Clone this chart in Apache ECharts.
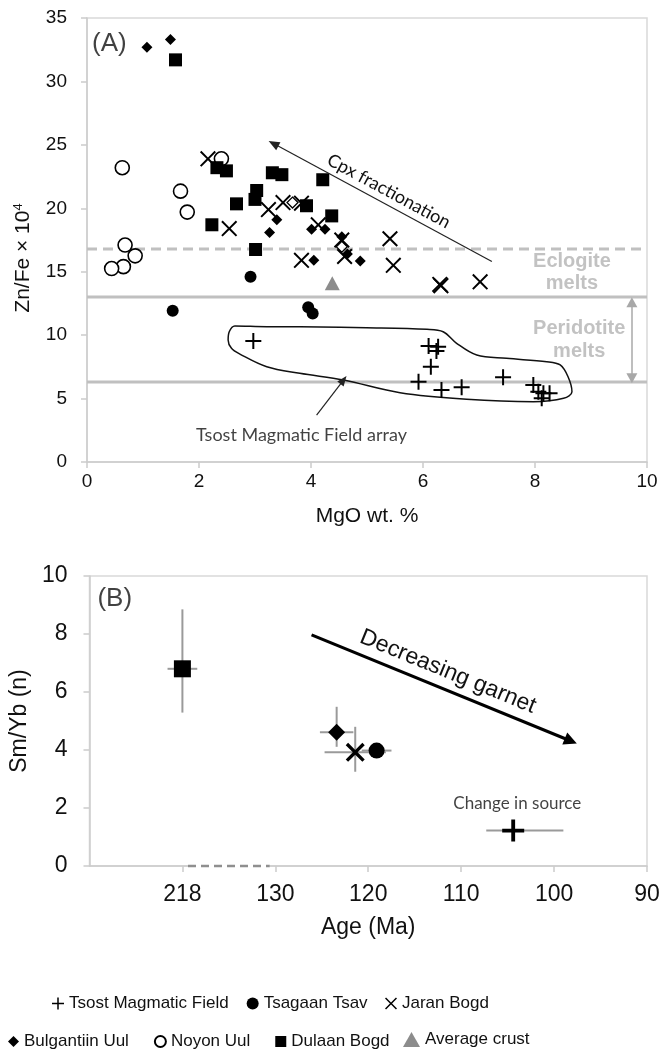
<!DOCTYPE html>
<html>
<head>
<meta charset="utf-8">
<script src="https://cdn.jsdelivr.net/npm/echarts@6/dist/echarts.min.js"></script>
<style>
  html, body { margin: 0; padding: 0; background: #fff; }
  #chart { width: 664px; height: 1050px; }
</style>
</head>
<body>
<div id="chart"></div>
<script>
// ---------- Panel A: Zn/Fe x 10^4 against MgO wt.% ----------
const tsostA = [[2.97, 9.54], [6.10, 9.14], [6.27, 9.09], [6.24, 8.75], [6.14, 7.51], [5.92, 6.33], [6.33, 5.68],
                [6.69, 5.89], [7.43, 6.68], [7.97, 6.07], [8.06, 5.54], [8.15, 5.41], [8.26, 5.41], [8.12, 5.02]];
const tsagaanA = [[1.53, 11.93], [2.92, 14.6], [3.95, 12.2], [4.03, 11.7]];
const jaranA = [[2.16, 23.9], [2.54, 18.4], [3.24, 19.9], [3.50, 20.45], [3.83, 20.4], [4.13, 18.7], [4.55, 17.5],
                [4.60, 16.2], [3.83, 15.9], [5.41, 17.6], [5.47, 15.5], [6.30, 14.0], [6.32, 13.9], [7.02, 14.2]];
const bulgantiinA = [[1.07, 32.7], [1.49, 33.3], [3.26, 18.1], [3.39, 19.1], [4.01, 18.35], [4.25, 18.35],
                     [4.55, 17.75], [4.65, 16.4], [4.88, 15.85], [4.05, 15.9]];
const bulgantiinOpenA = [[3.67, 20.45], [4.55, 16.97]];
const noyonA = [[0.63, 23.2], [2.40, 23.9], [1.67, 21.35], [1.79, 19.7], [0.68, 17.1], [0.86, 16.25], [0.65, 15.4], [0.44, 15.25]];
const dulaanA = [[1.58, 31.7], [2.32, 23.2], [2.49, 22.95], [3.31, 22.8], [3.48, 22.65], [4.21, 22.25], [3.03, 21.4],
                 [3.00, 20.7], [2.67, 20.35], [3.92, 20.2], [4.37, 19.4], [2.23, 18.7], [3.01, 16.75]];
const crustA = [[4.38, 14.1]];

// melt-field boundaries (Zn/Fe x 10^4)
const eclogiteMin = 16.8;
const peridotiteMax = 13.0;
const peridotiteMin = 6.3;

// outline of the Tsost Magmatic Field array
const tsostFieldOutline = [[3.80, 10.67], [4.99, 10.59], [6.07, 10.46], [6.36, 10.27], [6.60, 9.36], [6.96, 8.43],
  [7.49, 8.17], [8.21, 7.91], [8.45, 7.65], [8.59, 6.72], [8.66, 5.54], [8.51, 5.02], [7.97, 4.75], [6.78, 4.94],
  [5.59, 5.46], [4.58, 6.46], [3.80, 6.99], [3.21, 7.51], [2.73, 8.51], [2.58, 8.96], [2.52, 9.62], [2.54, 10.27],
  [2.64, 10.72], [3.21, 10.67], [3.80, 10.67]];

// ---------- Panel B: Sm/Yb (n) against age ----------
// [age Ma, Sm/Yb, age err older, age err younger, ratio err low, ratio err high]
const tsostB = [[104.4, 1.22, 2.9, 5.4, 0, 0]];
const tsagaanB = [[119.1, 3.98, 1.6, 1.6, 0, 0]];
const jaranB = [[121.4, 3.92, 3.3, 3.3, 0.67, 0.88]];
const bulgantiinB = [[123.4, 4.61, 1.8, 1.8, 0.5, 0.88]];
const dulaanB = [[218, 6.8, 1.6, 1.6, 1.51, 2.05]];

const ageTicks = [218, 130, 120, 110, 100, 90];

// broken age axis: ages older than the break are shifted into the slot left of 130 Ma
const breakAge = 130;
const breakShift = 218 - 140;
const toSlot = a => (a > breakAge ? a - breakShift : a);
const fromSlot = s => (s > breakAge ? s + breakShift : s);

const AR = "'Liberation Sans', Arial, sans-serif";
const CAL = "Lato, 'Open Sans', sans-serif";
const AXIS_GREY = '#cccccc';

const PLUS = 'path://M7,0H9V7H16V9H9V16H7V9H0V7H7Z';
const PLUS_B = 'path://M6.6,0H9.4V6.6H16V9.4H9.4V16H6.6V9.4H0V6.6H6.6Z';
const CROSS = 'path://M1.4,0L8,6.6L14.6,0L16,1.4L9.4,8L16,14.6L14.6,16L8,9.4L1.4,16L0,14.6L6.6,8L0,1.4Z';
const CROSS_B = 'path://M2,0L8,6L14,0L16,2L10,8L16,14L14,16L8,10L2,16L0,14L6,8L0,2Z';

function axisCommon(fontSize, margin) {
  return {
    axisLine: { show: true, lineStyle: { color: AXIS_GREY, width: 1.5 } },
    axisTick: { show: true, length: 6, lineStyle: { color: AXIS_GREY, width: 1.5 } },
    axisLabel: { fontSize: fontSize, fontFamily: AR, color: '#111', margin: margin },
    splitLine: { show: false },
    nameTextStyle: { fontSize: fontSize + 2, fontFamily: AR, color: '#111' }
  };
}

function toBars(rows) {
  return rows.map(r => [toSlot(r[0]), r[1], toSlot(r[0] + r[2]), toSlot(r[0] - r[3]), r[1] - r[4], r[1] + r[5]]);
}
function toPointsB(rows) {
  return rows.map(r => [toSlot(r[0]), r[1]]);
}

function renderErrorBar(params, api) {
  const c = api.coord([api.value(0), api.value(1)]);
  const xa = api.coord([api.value(2), api.value(1)]);
  const xb = api.coord([api.value(3), api.value(1)]);
  const ya = api.coord([api.value(0), api.value(4)]);
  const yb = api.coord([api.value(0), api.value(5)]);
  const style = { stroke: '#9a9a9a', lineWidth: 2 };
  return {
    type: 'group',
    children: [
      { type: 'line', shape: { x1: xa[0], y1: c[1], x2: xb[0], y2: c[1] }, style: style },
      { type: 'line', shape: { x1: c[0], y1: ya[1], x2: c[0], y2: yb[1] }, style: style }
    ]
  };
}

function note(x, y, text, style) {
  return { value: [x, y], label: Object.assign({ show: true, formatter: text, position: 'inside' }, style) };
}

const solid = color => ({ color: color, opacity: 1 });

const chart = echarts.init(document.getElementById('chart'), null, { renderer: 'canvas' });

const legendText = { fontSize: 17, fontFamily: AR, color: '#111' };

const option = {
  animation: false,
  backgroundColor: '#fff',
  grid: [
    { left: 87, right: 17, top: 18, height: 444, show: true, borderColor: '#d9d9d9', borderWidth: 1.5 },
    { left: 87, right: 17, top: 576, height: 290, show: true, borderColor: '#d9d9d9', borderWidth: 1.5 }
  ],
  xAxis: [
    Object.assign(axisCommon(19, 10), {
      gridIndex: 0, type: 'value', min: 0, max: 10, interval: 2,
      name: 'MgO wt. %', nameLocation: 'middle', nameGap: 44,
      nameTextStyle: { fontSize: 21, fontFamily: AR, color: '#111' }
    }),
    Object.assign(axisCommon(23, 17), {
      gridIndex: 1, type: 'value', min: 90, max: 150, interval: 10, inverse: true,
      name: 'Age (Ma)', nameLocation: 'middle', nameGap: 50,
      nameTextStyle: { fontSize: 23, fontFamily: AR, color: '#111' },
      axisTick: { show: true, length: 6, lineStyle: { color: AXIS_GREY, width: 1.5 }, customValues: ageTicks.map(toSlot) },
      axisLabel: {
        fontSize: 23, fontFamily: AR, color: '#111', margin: 17,
        customValues: ageTicks.map(toSlot),
        formatter: v => (v > 140 ? '' : String(fromSlot(v)))
      }
    })
  ],
  yAxis: [
    Object.assign(axisCommon(19, 20), {
      gridIndex: 0, type: 'value', min: 0, max: 35, interval: 5,
      name: '{m|Zn/Fe × 10}{s|4}', nameLocation: 'middle', nameGap: 52,
      nameTextStyle: {
        padding: [0, 36, 0, 0],
        rich: {
          m: { fontSize: 21, fontFamily: AR, color: '#111' },
          s: { fontSize: 13, fontFamily: AR, color: '#111', padding: [0, 0, 10, 0] }
        }
      }
    }),
    Object.assign(axisCommon(23, 22), {
      gridIndex: 1, type: 'value', min: 0, max: 10, interval: 2,
      name: 'Sm/Yb (n)', nameLocation: 'middle', nameGap: 52,
      nameTextStyle: { fontSize: 23, fontFamily: AR, color: '#111' }
    })
  ],
  legend: [
    {
      top: 990, left: 47, itemGap: 18, itemWidth: 12, itemHeight: 12, selectedMode: false,
      textStyle: legendText,
      data: [{ name: 'Tsost Magmatic Field', icon: PLUS }, { name: 'Tsagaan Tsav', icon: 'circle' }]
    },
    {
      top: 990, left: 380, itemWidth: 12, itemHeight: 12, selectedMode: false,
      textStyle: legendText,
      data: [{ name: 'Jaran Bogd', icon: CROSS }]
    },
    {
      top: 1028, left: 3, itemGap: 25, itemWidth: 11, itemHeight: 11, selectedMode: false,
      textStyle: legendText,
      data: [{ name: 'Bulgantiin Uul', icon: 'diamond' }, { name: 'Noyon Uul', icon: 'circle' }, { name: 'Dulaan Bogd', icon: 'rect' }]
    },
    {
      top: 1026, left: 398, itemWidth: 17, itemHeight: 15, selectedMode: false,
      textStyle: legendText,
      data: [{ name: 'Average crust', icon: 'triangle' }]
    }
  ],
  series: [
    // --- panel A: melt field boundaries, annotation arrows ---
    {
      type: 'line', xAxisIndex: 0, yAxisIndex: 0, silent: true, symbol: 'none', z: 1,
      data: [[0, eclogiteMin], [10, eclogiteMin]],
      lineStyle: { color: '#c0c0c0', width: 3, type: [10, 6] },
      markLine: {
        silent: true, animation: false,
        data: [
          [
            { coord: [3.33, 25.1], symbol: 'triangle', symbolSize: [9, 11] },
            { coord: [7.23, 15.8], symbol: 'none',
              label: { show: true, position: 'insideMiddleTop', formatter: 'Cpx fractionation', distance: 4,
                       fontSize: 18, fontFamily: CAL, color: '#111' } }
          ],
          [
            { coord: [4.10, 3.7], symbol: 'none' },
            { coord: [4.58, 6.46], symbol: 'triangle', symbolSize: [8, 10] }
          ],
          [
            { coord: [9.73, 12.6], symbol: 'triangle', symbolSize: [11, 10] },
            { coord: [9.73, 6.6], symbol: 'triangle', symbolSize: [11, 10],
              lineStyle: { color: '#a8a8a8', width: 1.5, type: 'solid' } }
          ]
        ],
        lineStyle: { color: '#222', width: 1.2, type: 'solid' },
        label: { show: false }
      }
    },
    {
      type: 'line', xAxisIndex: 0, yAxisIndex: 0, silent: true, symbol: 'none', z: 1,
      data: [[0, peridotiteMax], [10, peridotiteMax]],
      lineStyle: { color: '#c0c0c0', width: 3 }
    },
    {
      type: 'line', xAxisIndex: 0, yAxisIndex: 0, silent: true, symbol: 'none', z: 1,
      data: [[0, peridotiteMin], [10, peridotiteMin]],
      lineStyle: { color: '#c0c0c0', width: 3 }
    },
    {
      type: 'line', xAxisIndex: 0, yAxisIndex: 0, silent: true, symbol: 'none', smooth: 0.35, z: 2,
      data: tsostFieldOutline,
      lineStyle: { color: '#111', width: 1.5 }
    },
    // --- panel A: text notes ---
    {
      type: 'scatter', xAxisIndex: 0, yAxisIndex: 0, silent: true, symbolSize: 1, z: 5,
      itemStyle: { color: 'rgba(0,0,0,0)' },
      data: [
        note(0.09, 32.95, '(A)', { fontSize: 26, fontFamily: AR, color: '#111', align: 'left' }),
        note(3.83, 2.13, 'Tsost Magmatic Field array', { fontSize: 18, fontFamily: CAL, color: '#111' }),
        note(8.66, 14.9, 'Eclogite\nmelts', { fontSize: 20, fontWeight: 'bold', lineHeight: 22, fontFamily: AR, color: '#b3b3b3' }),
        note(8.79, 9.6, 'Peridotite\nmelts', { fontSize: 20, fontWeight: 'bold', lineHeight: 23, fontFamily: AR, color: '#b3b3b3' })
      ]
    },
    // --- panel A: samples ---
    {
      name: 'Average crust', type: 'scatter', xAxisIndex: 0, yAxisIndex: 0,
      symbol: 'triangle', symbolSize: [15, 14], itemStyle: solid('#8c8c8c'), data: crustA
    },
    {
      name: 'Noyon Uul', type: 'scatter', xAxisIndex: 0, yAxisIndex: 0,
      symbol: 'circle', symbolSize: 14,
      itemStyle: { color: '#fff', opacity: 1, borderColor: '#000', borderWidth: 1.6 }, data: noyonA
    },
    {
      name: 'Dulaan Bogd', type: 'scatter', xAxisIndex: 0, yAxisIndex: 0,
      symbol: 'rect', symbolSize: 13, itemStyle: solid('#000'), data: dulaanA
    },
    {
      name: 'Tsagaan Tsav', type: 'scatter', xAxisIndex: 0, yAxisIndex: 0,
      symbol: 'circle', symbolSize: 12, itemStyle: solid('#000'), data: tsagaanA
    },
    {
      name: 'Bulgantiin Uul', type: 'scatter', xAxisIndex: 0, yAxisIndex: 0,
      symbol: 'diamond', symbolSize: 11, itemStyle: solid('#000'),
      data: bulgantiinA.concat(bulgantiinOpenA.map(p => ({
        value: p, itemStyle: { color: 'rgba(255,255,255,0.6)', borderColor: '#000', borderWidth: 1.3 }
      })))
    },
    {
      name: 'Jaran Bogd', type: 'scatter', xAxisIndex: 0, yAxisIndex: 0,
      symbol: CROSS, symbolSize: 16, itemStyle: solid('#000'), data: jaranA
    },
    {
      name: 'Tsost Magmatic Field', type: 'scatter', xAxisIndex: 0, yAxisIndex: 0,
      symbol: PLUS, symbolSize: 16, itemStyle: solid('#000'), data: tsostA
    },
    // --- panel B: axis break marker and trend arrow ---
    {
      type: 'line', xAxisIndex: 1, yAxisIndex: 1, silent: true, symbol: 'none', clip: false, z: 3,
      data: [[139.4, 0], [130.6, 0]],
      lineStyle: { color: '#fff', width: 4 },
      markLine: {
        silent: true, animation: false,
        data: [
          [
            { coord: [126.1, 7.97], symbol: 'none' },
            { coord: [98.2, 4.31], symbol: 'triangle', symbolSize: [13, 13],
              label: { show: true, position: 'insideMiddleTop', formatter: 'Decreasing garnet', distance: 6,
                       fontSize: 23, fontFamily: AR, color: '#111' } }
          ]
        ],
        lineStyle: { color: '#000', width: 3, type: 'solid' },
        label: { show: false }
      }
    },
    {
      type: 'line', xAxisIndex: 1, yAxisIndex: 1, silent: true, symbol: 'none', clip: false, z: 4,
      data: [[139.4, 0], [130.6, 0]],
      lineStyle: { color: '#8f8f8f', width: 2.5, type: [8, 5] }
    },
    {
      type: 'scatter', xAxisIndex: 1, yAxisIndex: 1, silent: true, symbolSize: 1, z: 5,
      itemStyle: { color: 'rgba(0,0,0,0)' },
      data: [
        note(149.15, 9.2, '(B)', { fontSize: 26, fontFamily: AR, color: '#111', align: 'left' }),
        note(103.96, 2.14, 'Change in source', { fontSize: 17, fontFamily: CAL, color: '#111' })
      ]
    },
    {
      type: 'custom', xAxisIndex: 1, yAxisIndex: 1, silent: true, z: 2,
      renderItem: renderErrorBar,
      encode: { x: [0, 2, 3], y: [1, 4, 5] },
      data: toBars(dulaanB.concat(bulgantiinB, jaranB, tsagaanB, tsostB))
    },
    {
      name: 'Dulaan Bogd', type: 'scatter', xAxisIndex: 1, yAxisIndex: 1, z: 4,
      symbol: 'rect', symbolSize: 17, itemStyle: solid('#000'), data: toPointsB(dulaanB)
    },
    {
      name: 'Bulgantiin Uul', type: 'scatter', xAxisIndex: 1, yAxisIndex: 1, z: 4,
      symbol: 'diamond', symbolSize: 17, itemStyle: solid('#000'), data: toPointsB(bulgantiinB)
    },
    {
      name: 'Tsagaan Tsav', type: 'scatter', xAxisIndex: 1, yAxisIndex: 1, z: 4,
      symbol: 'circle', symbolSize: 16, itemStyle: solid('#000'), data: toPointsB(tsagaanB)
    },
    {
      name: 'Jaran Bogd', type: 'scatter', xAxisIndex: 1, yAxisIndex: 1, z: 4,
      symbol: CROSS_B, symbolSize: 19, itemStyle: solid('#000'), data: toPointsB(jaranB)
    },
    {
      name: 'Tsost Magmatic Field', type: 'scatter', xAxisIndex: 1, yAxisIndex: 1, z: 4,
      symbol: PLUS_B, symbolSize: 22, itemStyle: solid('#000'), data: toPointsB(tsostB)
    }
  ]
};

chart.setOption(option);
</script>
</body>
</html>
